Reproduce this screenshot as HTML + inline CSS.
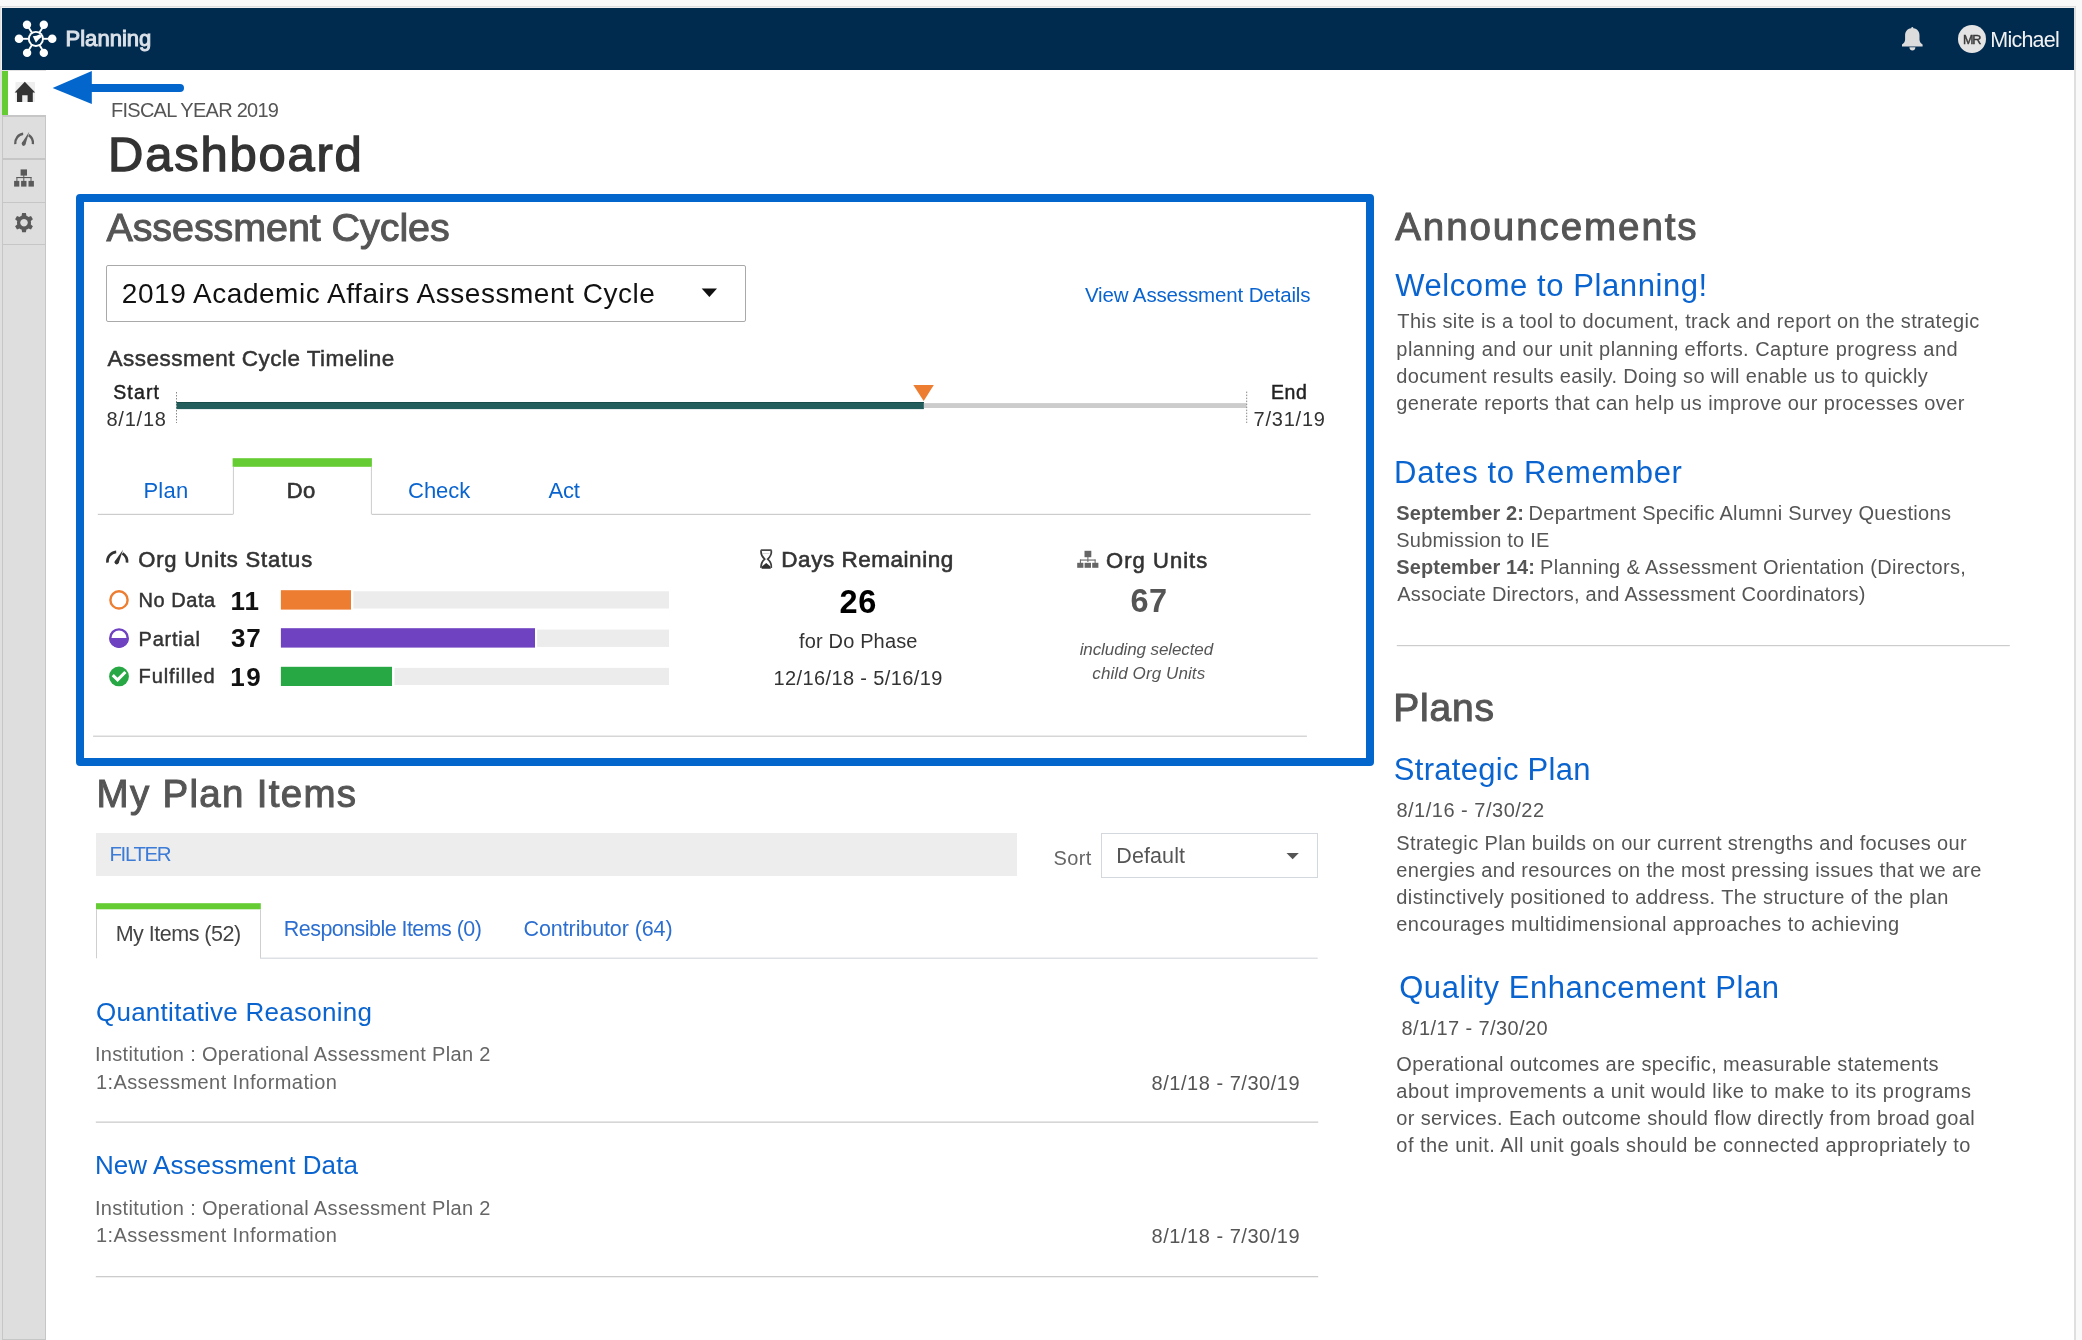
<!DOCTYPE html>
<html><head><meta charset="utf-8"><title>Planning Dashboard</title>
<style>
html,body{margin:0;padding:0}
body{width:2082px;height:1340px;overflow:hidden;background:#f9f9f9;position:relative;font-family:"Liberation Sans",sans-serif}
.t{position:absolute;white-space:nowrap;font-family:"Liberation Sans",sans-serif}
.t b{font-weight:700}
.a{position:absolute}
svg{position:absolute;overflow:visible}
</style></head><body>
<div id=wrap style="position:absolute;left:0;top:0;width:2082px;height:1340px;overflow:hidden;filter:blur(0.3px)">
<!-- window frame -->
<div class=a style="left:0;top:6px;width:2076px;height:1340px;background:#dfdfdf"></div>
<div class=a style="left:1.2px;top:7px;width:2073.6px;height:1px;background:#f1efef"></div>
<div class=a style="left:1.2px;top:7px;width:0.8px;height:63px;background:#f1efef"></div>
<div class=a style="left:2px;top:8px;width:2072px;height:1332px;background:#fff"></div>

<!-- navbar -->
<div class=a style="left:2px;top:8px;width:2072px;height:62px;background:#002b4e"></div>
<svg style="left:0;top:0" width="70" height="70" viewBox="0 0 70 70">
 <g stroke="#fff" stroke-width="1.9" fill="none">
  <line x1="35.7" y1="38.8" x2="27" y2="24.8"/><line x1="35.7" y1="38.8" x2="44.3" y2="24.8"/>
  <line x1="35.7" y1="38.8" x2="19" y2="38.8"/><line x1="35.7" y1="38.8" x2="52.3" y2="38.8"/>
  <line x1="35.7" y1="38.8" x2="27" y2="52.9"/><line x1="35.7" y1="38.8" x2="44.3" y2="52.9"/>
 </g>
 <circle cx="35.9" cy="38.9" r="8.0" fill="#fff"/>
 <circle cx="35.9" cy="38.9" r="6.1" fill="#002b4e"/>
 <path d="M32.8,36.3 Q36.2,36.0 40.1,34.2 L41.9,36.9 Q39.9,38.0 38.4,39.8 L35.9,42.8 Z" fill="#fff"/>
 <g fill="#fff">
  <circle cx="27" cy="24.8" r="4.2"/><circle cx="43.8" cy="24.8" r="4.2"/>
  <circle cx="19" cy="38.8" r="4.3"/><circle cx="52.2" cy="38.8" r="4.3"/>
  <circle cx="27.1" cy="52.9" r="4.2"/><circle cx="43.8" cy="52.9" r="4.2"/>
 </g>
</svg>
<!-- bell -->
<svg style="left:1899.5px;top:24.3px" width="26" height="28" viewBox="0 0 26 28">
 <path fill="#dcdcdc" d="M11.2,4.3 Q11.3,3.1 12.3,3.1 Q13.3,3.1 13.4,4.3 C17.6,5.0 19.5,7.6 19.5,11.5 L19.5,15.5 C19.5,17.8 20.8,19.3 22.6,20.6 L22.6,22.6 L2.0,22.6 L2.0,20.6 C3.8,19.3 5.1,17.8 5.1,15.5 L5.1,11.5 C5.1,7.6 7.0,5.0 11.2,4.3 Z"/>
 <path fill="#dcdcdc" d="M9.4,23.2 L15.4,23.2 C15.2,25.3 14,26.4 12.4,26.4 C10.8,26.4 9.6,25.3 9.4,23.2 Z"/>
</svg>
<!-- avatar -->
<div class=a style="left:1957.8px;top:25.1px;width:28.4px;height:28.4px;border-radius:50%;background:#e4e4e4"></div>


<!-- sidebar -->
<div class=a style="left:2px;top:70px;width:44px;height:1px;background:#e2e2e2"></div>
<div class=a style="left:2px;top:71px;width:6px;height:44px;background:#66cc33"></div>
<svg style="left:0;top:0" width="50" height="120" viewBox="0 0 50 120">
 <rect x="15.5" y="82" width="19.5" height="20" fill="#eeeeee"/>
 <path fill="#333" d="M24.8,81.8 L35.2,92.6 L32.8,92.6 L32.8,102 L27.6,102 L27.6,95.2 L22.2,95.2 L22.2,102 L17,102 L17,92.6 L14.6,92.6 Z"/>
</svg>
<div class=a style="left:2px;top:115px;width:42px;height:1230px;background:#dedede;border-left:1px solid #c6c6c6;border-right:1px solid #c6c6c6"></div>
<div class=a style="left:2px;top:115px;width:44px;height:2px;background:#c6c6c6"></div>
<div class=a style="left:2px;top:158px;width:44px;height:1.5px;background:#c6c6c6"></div>
<div class=a style="left:2px;top:201.7px;width:44px;height:1.5px;background:#c6c6c6"></div>
<div class=a style="left:2px;top:243.8px;width:44px;height:1.5px;background:#c6c6c6"></div>
<div class=a style="left:2px;top:1338.8px;width:44px;height:1.5px;background:#c6c6c6"></div>
<svg style="left:0;top:0" width="50" height="250" viewBox="0 0 50 250">
 <!-- gauge -->
 <g transform="translate(13.8,131.4) scale(0.9,0.965)">
  <path d="M1.6,13.2 A9.7,9.7 0 0 1 10.4,2.5" stroke="#5e5e5e" stroke-width="2.6" fill="none"/>
  <path d="M16.6,3.9 A9.7,9.7 0 0 1 21.2,13.2" stroke="#5e5e5e" stroke-width="2.6" fill="none"/>
  <path d="M8.7,12.4 L17.2,0.3 L12.9,13.6 Z" fill="#5e5e5e"/>
  <circle cx="10.9" cy="12.9" r="2.1" fill="#5e5e5e"/>
 </g>
 <!-- org chart -->
 <g fill="#5a5a5a">
  <rect x="20.6" y="169.4" width="6.4" height="6.2"/>
  <rect x="23.3" y="175" width="1" height="6"/>
  <rect x="16.5" y="177" width="15" height="1.1"/>
  <rect x="16.4" y="177" width="1" height="4"/>
  <rect x="30.5" y="177" width="1" height="4"/>
  <rect x="14.1" y="180.9" width="5.2" height="5.7"/>
  <rect x="21.1" y="180.9" width="5.4" height="5.7"/>
  <rect x="28.5" y="180.9" width="5.4" height="5.7"/>
 </g>
 <!-- gear -->
 <g transform="translate(24,222.7)" fill="#5a5a5a">
  <path id="gear" d="M-1.9,-9.6 L1.9,-9.6 L2.4,-6.9 A7.3,7.3 0 0 1 4.5,-5.7 L7,-6.8 L8.9,-3.5 L6.8,-1.8 A7.3,7.3 0 0 1 6.8,1.8 L8.9,3.5 L7,6.8 L4.5,5.7 A7.3,7.3 0 0 1 2.4,6.9 L1.9,9.6 L-1.9,9.6 L-2.4,6.9 A7.3,7.3 0 0 1 -4.5,5.7 L-7,6.8 L-8.9,3.5 L-6.8,1.8 A7.3,7.3 0 0 1 -6.8,-1.8 L-8.9,-3.5 L-7,-6.8 L-4.5,-5.7 A7.3,7.3 0 0 1 -2.4,-6.9 Z M0,-3.8 A3.8,3.8 0 1 0 0.01,-3.8 Z" fill-rule="evenodd"/>
 </g>
</svg>

<!-- annotation arrow -->
<svg style="left:0;top:0" width="200" height="120" viewBox="0 0 200 120">
 <line x1="90" y1="88" x2="180" y2="88" stroke="#0366cc" stroke-width="8" stroke-linecap="round"/>
 <path d="M52.6,88 L91.8,71.1 L91.8,103.9 Z" fill="#0366cc"/>
</svg>

<!-- highlight box -->
<div class=a style="left:76px;top:194.3px;width:1282px;height:555.7px;border:8px solid #0366cc;border-radius:4px"></div>

<!-- dropdown -->
<div class=a style="left:106px;top:265.3px;width:637.5px;height:54.6px;border:1px solid #a9a9a9;border-radius:2px;background:#fff"></div>
<svg style="left:0;top:0" width="800" height="800" viewBox="0 0 800 800">
 <path d="M701.7,288.4 L717,288.4 L709.35,297 Z" fill="#111"/>
 <!-- timeline -->
 <line x1="176.5" y1="392" x2="176.5" y2="423" stroke="#888" stroke-width="1" stroke-dasharray="1.5,1.5"/>
 <rect x="176.5" y="402" width="747.4" height="7.1" fill="#245e5c"/>
 <rect x="176.5" y="402" width="747.4" height="1" fill="#174c4b"/>
</svg>
<svg style="left:0;top:0" width="1400" height="800" viewBox="0 0 1400 800">
 <rect x="923.9" y="403.1" width="322.6" height="4.9" fill="#cccccc"/>
 <line x1="1246.7" y1="391.6" x2="1246.7" y2="423" stroke="#888" stroke-width="1" stroke-dasharray="1.5,1.5"/>
 <path d="M913.3,385.1 L933.8,385.1 L923.7,400.9 Z" fill="#ed7d31"/>
 <!-- tabs -->
 <rect x="232.6" y="458.2" width="139.3" height="8.6" fill="#66cc33"/>
 <rect x="232.9" y="466.8" width="1" height="47.6" fill="#cccccc"/>
 <rect x="370.9" y="466.8" width="1" height="47.6" fill="#cccccc"/>
 <rect x="97.8" y="513.8" width="135.1" height="1.2" fill="#cccccc"/>
 <rect x="371.9" y="513.8" width="938.7" height="1.2" fill="#cccccc"/>
 <!-- status bars -->
 <rect x="280.9" y="591.3" width="388.1" height="17.2" fill="#ececec"/>
 <rect x="280.9" y="590.2" width="70.1" height="19.4" fill="#ed7d31"/>
 <rect x="351" y="590.2" width="2.4" height="19.4" fill="#fff"/>
 <rect x="280.9" y="629.6" width="388.1" height="17.3" fill="#ececec"/>
 <rect x="280.9" y="628.2" width="254.1" height="19.4" fill="#6f42c1"/>
 <rect x="535" y="628.2" width="2.1" height="19.4" fill="#fff"/>
 <rect x="280.9" y="667.9" width="388.1" height="17.1" fill="#ececec"/>
 <rect x="280.9" y="666.8" width="111.1" height="19.2" fill="#28a745"/>
 <rect x="392" y="666.8" width="2.5" height="19.2" fill="#fff"/>
 <!-- status icons -->
 <circle cx="119" cy="599.9" r="8.6" fill="none" stroke="#ed7d31" stroke-width="2.4"/>
 <circle cx="119" cy="638.1" r="8.7" fill="none" stroke="#6f42c1" stroke-width="2.4"/>
 <path d="M109.1,638.1 A9.9,9.9 0 0 0 128.9,638.1 Z" fill="#6f42c1"/>
 <circle cx="119" cy="676.4" r="9.9" fill="#28a745"/>
 <path d="M113.9,676.3 L117.6,679.9 L124.3,673.1" stroke="#fff" stroke-width="3.1" fill="none" stroke-linecap="square"/>
 <!-- org units status gauge -->
 <g transform="translate(105.8,549.4)">
  <path d="M1.6,13.2 A9.7,9.7 0 0 1 10.4,2.5" stroke="#333" stroke-width="2.6" fill="none"/>
  <path d="M16.6,3.9 A9.7,9.7 0 0 1 21.2,13.2" stroke="#333" stroke-width="2.6" fill="none"/>
  <path d="M8.7,12.4 L17.2,0.3 L12.9,13.6 Z" fill="#333"/>
  <circle cx="10.9" cy="12.9" r="2.1" fill="#333"/>
 </g>
 <!-- hourglass -->
 <g fill="none" stroke="#3c3c3c" stroke-width="1.7">
  <path d="M761.1,550.4 C760.6,554.2 761.6,556.3 764.7,559.1 C761.6,561.9 760.6,564.0 761.1,567.8"/>
  <path d="M771.3,550.4 C771.8,554.2 770.8,556.3 767.7,559.1 C770.8,561.9 771.8,564.0 771.3,567.8"/>
 </g>
 <rect x="760.6" y="549.3" width="11.2" height="1.7" rx="0.8" fill="#4a4a4a"/>
 <rect x="763" y="553.1" width="6.4" height="0.8" fill="#cfcfcf"/>
 <path d="M761.6,568.8 L761.9,566.6 C763.2,565.4 764.9,564.2 766.2,563.1 C767.5,564.2 769.2,565.4 770.5,566.6 L770.8,568.8 Z" fill="#2e2e2e"/>
 <!-- org icon -->
 <g fill="#666">
  <rect x="1084.5" y="550.8" width="6.8" height="6.4"/>
  <rect x="1087.4" y="557" width="1" height="5"/>
  <rect x="1080" y="559.5" width="15.6" height="1.1"/>
  <rect x="1079.9" y="559.5" width="1" height="3.6"/>
  <rect x="1094.6" y="559.5" width="1" height="3.6"/>
  <rect x="1077.2" y="562.8" width="6.2" height="5"/>
  <rect x="1084.6" y="562.8" width="6.4" height="5"/>
  <rect x="1092.2" y="562.8" width="6.2" height="5"/>
 </g>
 <!-- separator inside box -->
 <rect x="93.1" y="735.6" width="1213.8" height="1.2" fill="#cccccc"/>
</svg>

<!-- My plan items area -->
<div class=a style="left:95.6px;top:833.1px;width:921.4px;height:42.9px;background:#ededed"></div>
<div class=a style="left:1100.8px;top:833.2px;width:214.8px;height:42.8px;border:1.5px solid #d3d7de;background:#fff"></div>
<svg style="left:0;top:0" width="1400" height="1340" viewBox="0 0 1400 1340">
 <path d="M1286.5,852.9 L1298.8,852.9 L1292.65,859.3 Z" fill="#555"/>
 <rect x="96" y="903.2" width="164.8" height="6.1" fill="#66cc33"/>
 <rect x="96" y="909.3" width="1" height="49" fill="#cfcfcf"/>
 <rect x="260" y="909.3" width="1" height="49" fill="#cfcfcf"/>
 <rect x="260" y="957.6" width="1057.7" height="1.2" fill="#d5d9de"/>
 <rect x="95.8" y="1121.5" width="1222.4" height="1.3" fill="#cccccc"/>
 <rect x="95.8" y="1276" width="1222.4" height="1.3" fill="#cccccc"/>
 <!-- right column divider -->
 <rect x="1396.8" y="645" width="613" height="1.2" fill="#cccccc"/>
</svg>

<div class=t style="left:65.50px;top:28.20px;font-size:22px;line-height:22px;color:#dbe1e9;letter-spacing:0.029px;-webkit-text-stroke:1.0px #dbe1e9">Planning</div>
<div class=t style="left:1990.30px;top:29.70px;font-size:21.5px;line-height:21.5px;color:#f2f2f2;letter-spacing:-0.767px">Michael</div>
<div class=t style="left:1962.88px;top:34.00px;font-size:12.6px;line-height:12.6px;color:#3a3a3a;letter-spacing:-1.060px;-webkit-text-stroke:0.45px #3a3a3a">MR</div>
<div class=t style="left:111.00px;top:99.70px;font-size:20px;line-height:20px;color:#555;letter-spacing:-0.733px">FISCAL YEAR 2019</div>
<div class=t style="left:108.12px;top:130.00px;font-size:49px;line-height:49px;color:#333;letter-spacing:1.745px;-webkit-text-stroke:1.3px #333">Dashboard</div>
<div class=t style="left:106.40px;top:207.70px;font-size:39.5px;line-height:39.5px;color:#555;letter-spacing:-0.081px;-webkit-text-stroke:1.0px #555">Assessment Cycles</div>
<div class=t style="left:121.80px;top:280.20px;font-size:28px;line-height:28px;color:#111;letter-spacing:0.541px">2019 Academic Affairs Assessment Cycle</div>
<div class=t style="left:1084.90px;top:285.00px;font-size:20.5px;line-height:20.5px;color:#0a64cf;letter-spacing:-0.136px">View Assessment Details</div>
<div class=t style="left:107.60px;top:347.90px;font-size:22.5px;line-height:22.5px;color:#333;letter-spacing:0.483px;-webkit-text-stroke:0.5px #333">Assessment Cycle Timeline</div>
<div class=t style="left:113.18px;top:382.80px;font-size:19.5px;line-height:19.5px;color:#222;letter-spacing:1.160px;-webkit-text-stroke:0.45px #222">Start</div>
<div class=t style="left:106.40px;top:408.90px;font-size:20px;line-height:20px;color:#333;letter-spacing:0.800px">8/1/18</div>
<div class=t style="left:1270.88px;top:383.20px;font-size:19.5px;line-height:19.5px;color:#222;letter-spacing:0.620px;-webkit-text-stroke:0.45px #222">End</div>
<div class=t style="left:1253.50px;top:409.00px;font-size:20px;line-height:20px;color:#333;letter-spacing:0.783px">7/31/19</div>
<div class=t style="left:143.40px;top:479.50px;font-size:22px;line-height:22px;color:#0a64cf;letter-spacing:0.267px">Plan</div>
<div class=t style="left:286.76px;top:479.50px;font-size:22px;line-height:22px;color:#333;letter-spacing:0.480px;-webkit-text-stroke:0.65px #333">Do</div>
<div class=t style="left:408.00px;top:479.50px;font-size:22px;line-height:22px;color:#0a64cf;letter-spacing:0.000px">Check</div>
<div class=t style="left:548.50px;top:479.50px;font-size:22px;line-height:22px;color:#0a64cf;letter-spacing:-0.250px">Act</div>
<div class=t style="left:138.24px;top:548.70px;font-size:22px;line-height:22px;color:#333;letter-spacing:0.835px;-webkit-text-stroke:0.6px #333">Org Units Status</div>
<div class=t style="left:138.58px;top:590.00px;font-size:20px;line-height:20px;color:#333;letter-spacing:0.540px;-webkit-text-stroke:0.45px #333">No Data</div>
<div class=t style="left:138.58px;top:628.70px;font-size:20px;line-height:20px;color:#333;letter-spacing:0.773px;-webkit-text-stroke:0.45px #333">Partial</div>
<div class=t style="left:138.58px;top:666.40px;font-size:20px;line-height:20px;color:#333;letter-spacing:0.892px;-webkit-text-stroke:0.45px #333">Fulfilled</div>
<div class=t style="left:230.60px;top:587.90px;font-size:26px;line-height:26px;color:#111;letter-spacing:1.000px;font-weight:700">11</div>
<div class=t style="left:230.90px;top:625.40px;font-size:26px;line-height:26px;color:#111;letter-spacing:1.000px;font-weight:700">37</div>
<div class=t style="left:230.30px;top:663.60px;font-size:26px;line-height:26px;color:#111;letter-spacing:1.500px;font-weight:700">19</div>
<div class=t style="left:781.34px;top:549.30px;font-size:22.5px;line-height:22.5px;color:#333;letter-spacing:0.525px;-webkit-text-stroke:0.6px #333">Days Remaining</div>
<div class=t style="left:839.40px;top:585.60px;font-size:32.5px;line-height:32.5px;color:#000;letter-spacing:0.800px;font-weight:700">26</div>
<div class=t style="left:799.10px;top:630.70px;font-size:20px;line-height:20px;color:#333;letter-spacing:0.145px">for Do Phase</div>
<div class=t style="left:773.50px;top:668.00px;font-size:20px;line-height:20px;color:#333;letter-spacing:0.382px">12/16/18 - 5/16/19</div>
<div class=t style="left:1106.04px;top:549.60px;font-size:22px;line-height:22px;color:#333;letter-spacing:1.040px;-webkit-text-stroke:0.6px #333">Org Units</div>
<div class=t style="left:1130.40px;top:585.30px;font-size:32.5px;line-height:32.5px;color:#555;letter-spacing:0.500px;font-weight:700">67</div>
<div class=t style="left:1079.70px;top:641.00px;font-size:17px;line-height:17px;color:#555;letter-spacing:-0.100px;font-style:italic">including selected</div>
<div class=t style="left:1092.30px;top:664.50px;font-size:17px;line-height:17px;color:#555;letter-spacing:0.100px;font-style:italic">child Org Units</div>
<div class=t style="left:96.60px;top:774.50px;font-size:38.5px;line-height:38.5px;color:#555;letter-spacing:1.300px;-webkit-text-stroke:1.0px #555">My Plan Items</div>
<div class=t style="left:109.50px;top:844.30px;font-size:20.5px;line-height:20.5px;color:#3c7bd6;letter-spacing:-1.400px">FILTER</div>
<div class=t style="left:1053.60px;top:848.40px;font-size:20px;line-height:20px;color:#666;letter-spacing:0.333px">Sort</div>
<div class=t style="left:1116.30px;top:845.90px;font-size:21.5px;line-height:21.5px;color:#555;letter-spacing:0.100px">Default</div>
<div class=t style="left:115.70px;top:924.00px;font-size:21.5px;line-height:21.5px;color:#444;letter-spacing:-0.500px">My Items (52)</div>
<div class=t style="left:283.80px;top:918.70px;font-size:21.5px;line-height:21.5px;color:#2d6fd0;letter-spacing:-0.550px">Responsible Items (0)</div>
<div class=t style="left:523.60px;top:918.70px;font-size:21.5px;line-height:21.5px;color:#2d6fd0;letter-spacing:-0.107px">Contributor (64)</div>
<div class=t style="left:95.90px;top:998.70px;font-size:26px;line-height:26px;color:#0a64cf;letter-spacing:0.276px">Quantitative Reasoning</div>
<div class=t style="left:94.90px;top:1044.00px;font-size:20px;line-height:20px;color:#666;letter-spacing:0.340px">Institution : Operational Assessment Plan 2</div>
<div class=t style="left:95.90px;top:1072.40px;font-size:20px;line-height:20px;color:#666;letter-spacing:0.426px">1:Assessment Information</div>
<div class=t style="left:1151.60px;top:1072.50px;font-size:20px;line-height:20px;color:#555;letter-spacing:0.527px">8/1/18 - 7/30/19</div>
<div class=t style="left:94.90px;top:1151.90px;font-size:26px;line-height:26px;color:#0a64cf;letter-spacing:0.083px">New Assessment Data</div>
<div class=t style="left:94.90px;top:1197.60px;font-size:20px;line-height:20px;color:#666;letter-spacing:0.340px">Institution : Operational Assessment Plan 2</div>
<div class=t style="left:95.90px;top:1225.30px;font-size:20px;line-height:20px;color:#666;letter-spacing:0.426px">1:Assessment Information</div>
<div class=t style="left:1151.60px;top:1225.70px;font-size:20px;line-height:20px;color:#555;letter-spacing:0.527px">8/1/18 - 7/30/19</div>
<div class=t style="left:1395.20px;top:208.20px;font-size:38.5px;line-height:38.5px;color:#555;letter-spacing:1.933px;-webkit-text-stroke:1.0px #555">Announcements</div>
<div class=t style="left:1395.20px;top:270.20px;font-size:31px;line-height:31px;color:#0a64cf;letter-spacing:0.579px">Welcome to Planning!</div>
<div class=t style="left:1397.30px;top:311.40px;font-size:20px;line-height:20px;color:#555;letter-spacing:0.369px">This site is a tool to document, track and report on the strategic</div>
<div class=t style="left:1396.30px;top:338.57px;font-size:20px;line-height:20px;color:#555;letter-spacing:0.475px">planning and our unit planning efforts. Capture progress and</div>
<div class=t style="left:1396.30px;top:365.74px;font-size:20px;line-height:20px;color:#555;letter-spacing:0.333px">document results easily. Doing so will enable us to quickly</div>
<div class=t style="left:1396.30px;top:392.91px;font-size:20px;line-height:20px;color:#555;letter-spacing:0.376px">generate reports that can help us improve our processes over</div>
<div class=t style="left:1394.10px;top:457.10px;font-size:31px;line-height:31px;color:#0a64cf;letter-spacing:0.650px">Dates to Remember</div>
<div class=t style="left:1393.20px;top:688.40px;font-size:39px;line-height:39px;color:#555;letter-spacing:0.800px;-webkit-text-stroke:1.0px #555">Plans</div>
<div class=t style="left:1393.80px;top:754.20px;font-size:31px;line-height:31px;color:#0a64cf;letter-spacing:0.285px">Strategic Plan</div>
<div class=t style="left:1396.40px;top:800.40px;font-size:20px;line-height:20px;color:#555;letter-spacing:0.507px">8/1/16 - 7/30/22</div>
<div class=t style="left:1396.30px;top:832.90px;font-size:20px;line-height:20px;color:#555;letter-spacing:0.366px">Strategic Plan builds on our current strengths and focuses our</div>
<div class=t style="left:1396.30px;top:859.97px;font-size:20px;line-height:20px;color:#555;letter-spacing:0.297px">energies and resources on the most pressing issues that we are</div>
<div class=t style="left:1396.30px;top:887.04px;font-size:20px;line-height:20px;color:#555;letter-spacing:0.438px">distinctively positioned to address. The structure of the plan</div>
<div class=t style="left:1396.30px;top:914.11px;font-size:20px;line-height:20px;color:#555;letter-spacing:0.428px">encourages multidimensional approaches to achieving</div>
<div class=t style="left:1399.20px;top:972.10px;font-size:31px;line-height:31px;color:#0a64cf;letter-spacing:0.557px">Quality Enhancement Plan</div>
<div class=t style="left:1401.60px;top:1017.70px;font-size:20px;line-height:20px;color:#555;letter-spacing:0.400px">8/1/17 - 7/30/20</div>
<div class=t style="left:1396.30px;top:1054.30px;font-size:20px;line-height:20px;color:#555;letter-spacing:0.380px">Operational outcomes are specific, measurable statements</div>
<div class=t style="left:1396.30px;top:1081.17px;font-size:20px;line-height:20px;color:#555;letter-spacing:0.527px">about improvements a unit would like to make to its programs</div>
<div class=t style="left:1396.30px;top:1108.04px;font-size:20px;line-height:20px;color:#555;letter-spacing:0.372px">or services. Each outcome should flow directly from broad goal</div>
<div class=t style="left:1396.30px;top:1134.91px;font-size:20px;line-height:20px;color:#555;letter-spacing:0.463px">of the unit. All unit goals should be connected appropriately to</div>
<div class=t style="left:1396.30px;top:502.70px;font-size:20px;line-height:20px;color:#555;letter-spacing:0.073px;font-weight:700">September 2:</div>
<div class=t style="left:1528.60px;top:502.70px;font-size:20px;line-height:20px;color:#555;letter-spacing:0.317px">Department Specific Alumni Survey Questions</div>
<div class=t style="left:1396.30px;top:529.90px;font-size:20px;line-height:20px;color:#555;letter-spacing:0.193px">Submission to IE</div>
<div class=t style="left:1396.30px;top:557.20px;font-size:20px;line-height:20px;color:#555;letter-spacing:0.067px;font-weight:700">September 14:</div>
<div class=t style="left:1540.10px;top:557.20px;font-size:20px;line-height:20px;color:#555;letter-spacing:0.327px">Planning &amp; Assessment Orientation (Directors,</div>
<div class=t style="left:1397.30px;top:584.20px;font-size:20px;line-height:20px;color:#555;letter-spacing:0.235px">Associate Directors, and Assessment Coordinators)</div>
</div>
</body></html>
